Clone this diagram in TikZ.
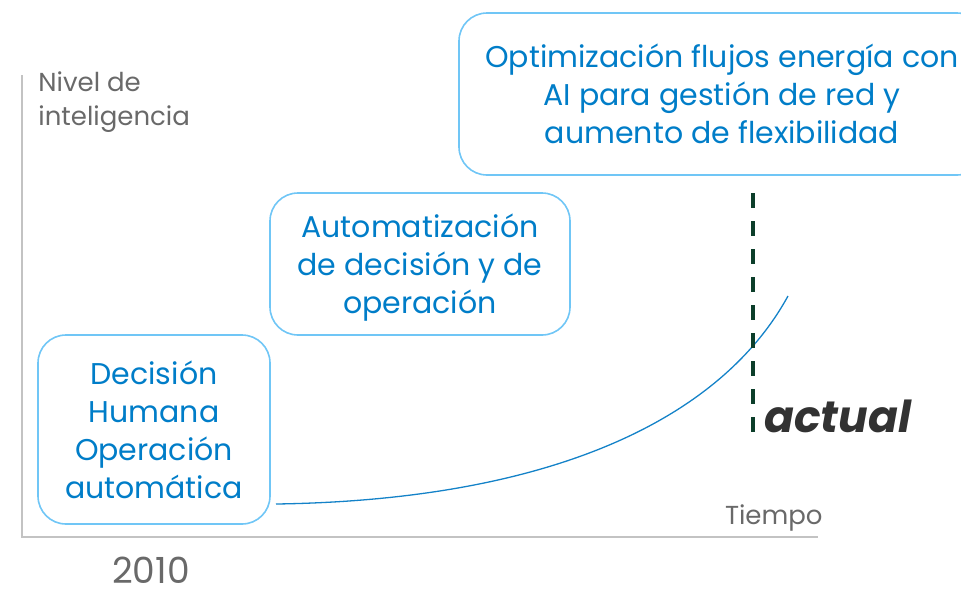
\documentclass[tikz,border=0pt]{standalone}
\usepackage{fontspec}
\setmainfont{Poppins}
\definecolor{boxline}{RGB}{112,198,246}
\definecolor{boxtext}{RGB}{0,125,200}
\definecolor{axisline}{RGB}{195,195,195}
\definecolor{axistext}{RGB}{105,105,105}
\definecolor{curveblue}{RGB}{20,130,200}
\definecolor{nowgreen}{RGB}{12,62,42}
\definecolor{nowtext}{RGB}{50,50,50}
\begin{document}
\begin{tikzpicture}[x=1pt, y=-1pt, thick,
  stage box/.style={draw=boxline, line width=1.6pt, rounded corners=28pt, text=boxtext, align=center, inner sep=0pt, text depth=0pt, font=\fontsize{30}{38}\selectfont},
  axis label/.style={text=axistext, inner sep=0pt, font=\fontsize{26}{34}\selectfont}]
	\useasboundingbox (0,0) rectangle (961,590);
	% axes
	\coordinate (O) at (22,537);
	\coordinate (Ytop) at (22,75);
	\coordinate (Xend) at (818,537);
	\draw[axisline, line width=1.3pt] (Ytop) -- (O) -- (Xend);
	\node[axis label, align=left, anchor=north west] (ylab) at (38,71) {Nivel de\\inteligencia};
	\node[axis label, anchor=east] (xlab) at (823,518) {Tiempo};
	\node[axis label, anchor=base, text depth=0pt, font=\fontsize{36}{36}\selectfont] (year) at (151,583) {2010};
	% stages
	\node[stage box, minimum width=232, minimum height=189] (S1) at (154,429.5) {Decisión\\Humana\\Operación\\automática};
	\node[stage box, minimum width=300, minimum height=142, text depth=-11pt] (S2) at (420,264) {Automatización\\de decisión y de\\operación};
	\node[stage box, minimum width=526, minimum height=162] (S3) at (722,94) {Optimización flujos energía con\\AI para gestión de red y\\aumento de flexibilidad};
	% growth curve
	\coordinate (C1) at (276,504);
	\coordinate (C2) at (788,296);
	\draw[curveblue, line width=1.3pt] (C1) .. controls (550,500) and (720,420) .. (C2);
	% today
	\coordinate (Ntop) at (753,193);
	\coordinate (Nbot) at (753,433);
	\draw[nowgreen, line width=4pt, dash pattern=on 15pt off 13pt] (Ntop) -- (Nbot);
	\node[text=nowtext, anchor=base west, inner sep=0pt, font=\fontsize{44}{44}\selectfont\bfseries\itshape] (now) at (764,432) {actual};
\end{tikzpicture}
\end{document}
